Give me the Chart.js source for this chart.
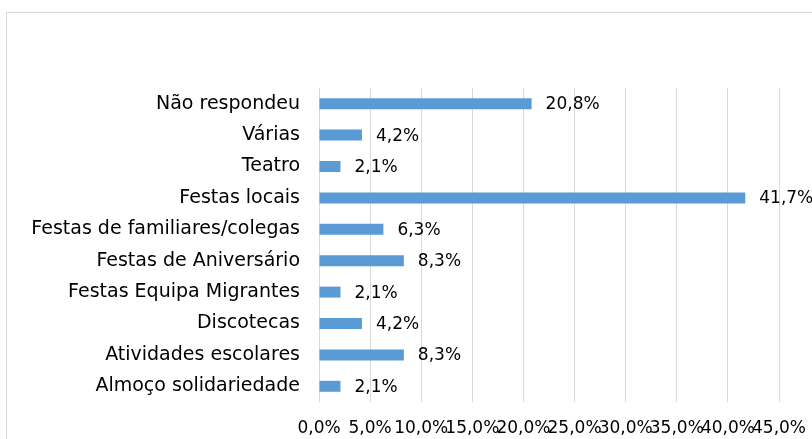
<!DOCTYPE html>
<html><head><meta charset="utf-8">
<script src="https://cdn.jsdelivr.net/npm/chart.js@4/dist/chart.umd.min.js"></script>
<style>html,body{margin:0;padding:0;background:#fff}#wrap{width:812px;height:439px;position:relative}</style>
</head><body><div id="wrap"><canvas id="c" width="812" height="439"></canvas></div>
<script>
const categories = ["Não respondeu","Várias","Teatro","Festas locais","Festas de familiares/colegas","Festas de Aniversário","Festas Equipa Migrantes","Discotecas","Atividades escolares","Almoço solidariedade"];
const values = [20.8,4.2,2.1,41.7,6.3,8.3,2.1,4.2,8.3,2.1];
const xTicks = [0,5,10,15,20,25,30,35,40,45];
const fmt = v => v.toFixed(1).replace('.', ',') + '%';
const FONT = "'DejaVu Sans', sans-serif";

const framePlugin = {
  id: 'frame',
  beforeDraw(chart) {
    const ctx = chart.ctx;
    ctx.save();
    ctx.fillStyle = '#fff';
    ctx.fillRect(0,0,chart.width,chart.height);
    ctx.strokeStyle = '#d9d9d9';
    ctx.lineWidth = 1;
    ctx.strokeRect(6.5, 12.5, 900, 500);
    ctx.restore();
  }
};
const labelPlugin = {
  id: 'vals',
  afterDatasetsDraw(chart) {
    const ctx = chart.ctx;
    const meta = chart.getDatasetMeta(0);
    ctx.save();
    ctx.font = "17px " + FONT;
    ctx.fillStyle = '#000';
    ctx.textBaseline = 'middle';
    ctx.textAlign = 'left';
    meta.data.forEach((bar, i) => {
      ctx.fillText(fmt(values[i]), bar.x + 14, bar.y + 1);
    });
    ctx.restore();
  }
};

new Chart(document.getElementById('c'), {
  type: 'bar',
  data: { labels: categories, datasets: [{ data: values, backgroundColor: '#5b9bd5', barPercentage: 0.7, categoryPercentage: 0.5 }] },
  options: {
    indexAxis: 'y',
    responsive: false,
    animation: false,
    layout: { padding: { top: 88, right: 33, left: 0, bottom: 0 } },
    plugins: { legend: { display: false }, tooltip: { enabled: false } },
    scales: {
      x: {
        min: 0, max: 45,
        afterBuildTicks(s) { s.ticks = xTicks.map(v => ({ value: v })); },
        ticks: { callback: v => fmt(v), color: '#000', font: { family: FONT, size: 17 }, padding: 16, maxRotation: 0, autoSkip: false },
        grid: { color: '#d9d9d9', drawTicks: false },
        border: { display: false },
        afterFit(s) { s.height = 37; s.paddingRight = 0; s.paddingLeft = 0; }
      },
      y: {
        ticks: { color: '#000', font: { family: FONT, size: 19 }, padding: 19 },
        grid: { display: false, drawTicks: false },
        border: { display: false },
        afterFit(s) { s.width = 319; s.paddingTop = 0; s.paddingBottom = 0; }
      }
    }
  },
  plugins: [framePlugin, labelPlugin]
});
</script></body></html>
